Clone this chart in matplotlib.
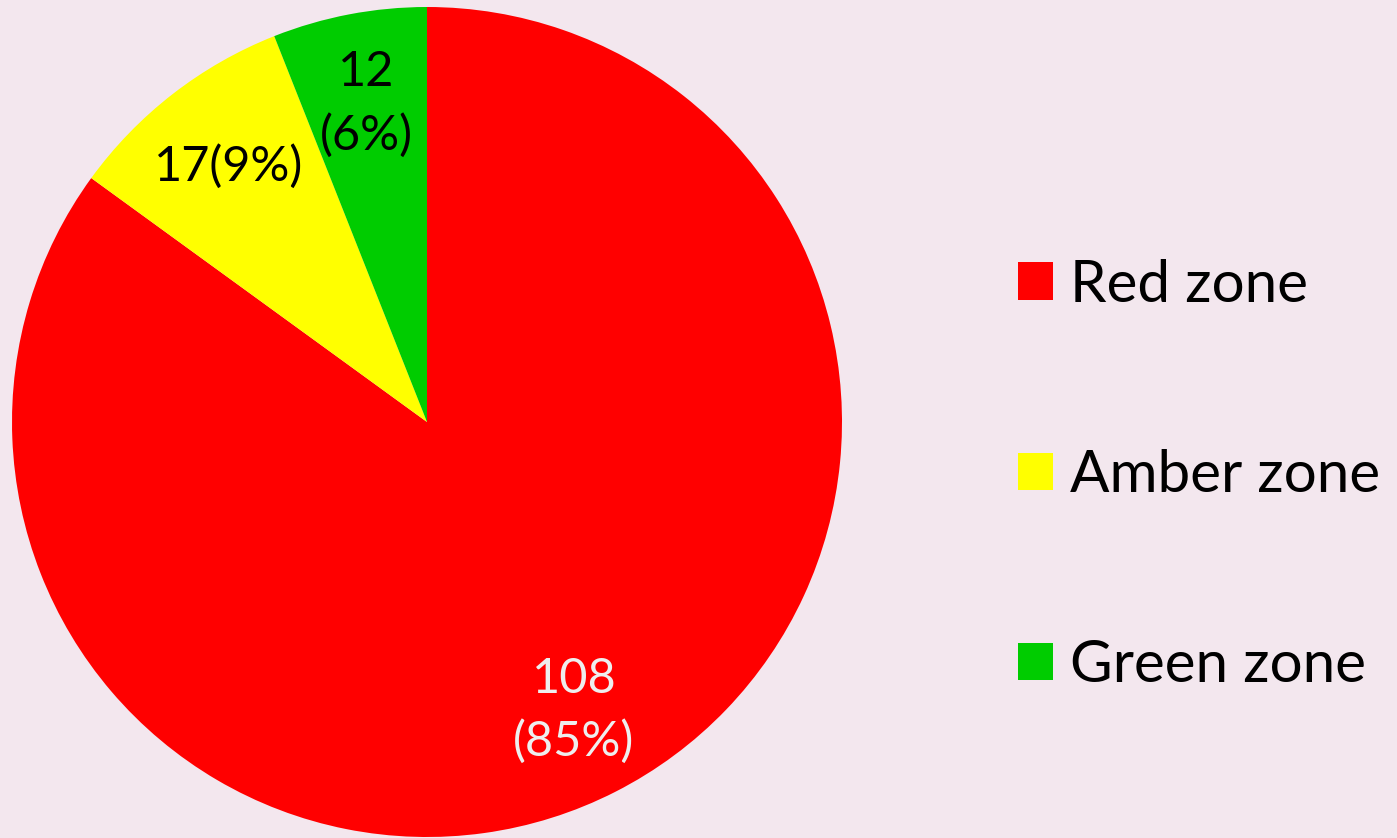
"""
Pie chart of zone counts (red / amber / green)
"""
import matplotlib.pyplot as plt
from matplotlib.patches import Patch

plt.rcParams['font.family'] = ['Lato', 'DejaVu Sans']

zones = ['Red zone', 'Amber zone', 'Green zone']
counts = [108, 17, 12]
percents = [85, 9, 6]
colors = ['#FF0000', '#FFFF00', '#00CC00']
label_colors = ['#EEEEEE', 'black', 'black']
label_fmt = ['{}\n({}%)', '{}({}%)', '{}\n({}%)']

bg = '#F3E7EE'

fig = plt.figure(figsize=(13.97, 8.38), dpi=100, facecolor=bg)
ax = fig.add_axes([12 / 1397, 1 / 838, 830 / 1397, 830 / 838])
ax.set_facecolor(bg)

labels = [f.format(c, p) for f, c, p in zip(label_fmt, counts, percents)]
wedges, texts = ax.pie(percents, colors=colors, startangle=90,
                       counterclock=False, labels=labels, labeldistance=0.78,
                       wedgeprops=dict(linewidth=0))
for t, c in zip(texts, label_colors):
    t.set_ha('center')
    t.set_va('center')
    t.set_color(c)
    t.set_fontsize(35)
    t.set_linespacing(1.5)
ax.set_aspect('equal')
ax.set_xlim(-1, 1)
ax.set_ylim(-1, 1)

# Legend on the right
handles = [Patch(facecolor=c, edgecolor='none') for c in colors]
fig.legend(handles, zones, loc='center left', bbox_to_anchor=(0.7287, 0.4330),
           frameon=False, fontsize=42, handlelength=0.6, handleheight=0.6,
           handletextpad=0.3, labelspacing=2.35, borderpad=0,
           borderaxespad=0)

fig.savefig('out.png', dpi=100, facecolor=bg)
